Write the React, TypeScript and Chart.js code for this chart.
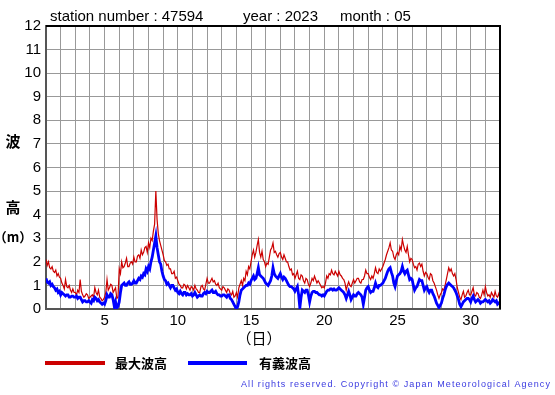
import { useEffect, useRef } from "react";
import { Chart, registerables } from "chart.js";

Chart.register(...registerables);

// ---- data (12 readings per day, every 2 hours, May 1 00h -> June 1 00h) ----
const STEPS_PER_DAY = 12;
const FIRST_DAY = 1;
const LAST_DAY = 32;

const maxWave = [
  2.1, 1.85, 2.0, 1.75, 1.7, 1.8, 1.6, 1.55, 1.65, 1.4, 1.5, 1.35, // 1
  1.3, 1.1, 1.0, 0.85, 1.25, 0.95, 0.9, 1.0, 0.8, 0.7, 0.85, 0.7, // 2
  0.7, 0.6, 0.8, 0.7, 1.25, 0.75, 0.6, 0.5, 0.55, 0.65, 0.6, 0.45, // 3
  0.5, 0.55, 0.6, 0.5, 0.9, 0.7, 0.6, 0.8, 0.5, 0.45, 0.35, 0.4, // 4
  0.5, 0.7, 1.25, 0.8, 0.9, 1.05, 1.0, 0.7, 0.8, 0.9, 0.45, 0.5, // 5
  1.7, 1.5, 2.0, 1.75, 1.8, 1.95, 2.15, 1.8, 1.8, 1.95, 2.0, 1.9, // 6
  2.2, 2.0, 2.0, 2.25, 2.3, 2.15, 2.5, 2.3, 2.4, 2.6, 2.65, 2.4, // 7
  2.8, 2.6, 3.0, 2.9, 3.3, 3.6, 5.0, 3.8, 3.2, 2.9, 2.7, 2.5, // 8
  2.3, 2.05, 2.0, 1.85, 1.9, 1.7, 1.7, 1.5, 1.5, 1.6, 1.3, 1.35, // 9
  1.2, 1.05, 1.0, 0.9, 0.9, 1.05, 1.0, 0.85, 1.0, 0.9, 0.8, 0.95, // 10
  0.9, 0.8, 1.0, 0.85, 0.8, 0.7, 0.7, 0.95, 1.0, 0.85, 0.8, 1.05, // 11
  1.3, 1.1, 1.1, 1.2, 1.3, 1.15, 1.2, 1.05, 1.0, 1.1, 0.9, 0.85, // 12
  0.8, 0.95, 0.9, 0.8, 0.7, 0.85, 0.8, 0.65, 0.6, 0.75, 0.5, 0.55, // 13
  0.7, 0.5, 0.9, 1.05, 1.2, 1.0, 1.3, 1.2, 1.6, 1.45, 1.8, 1.7, // 14
  2.0, 2.3, 2.5, 2.2, 2.4, 2.7, 2.95, 2.4, 2.2, 2.45, 2.1, 2.0, // 15
  1.8, 1.95, 1.9, 2.2, 2.5, 2.6, 2.8, 2.4, 2.45, 2.3, 2.2, 2.35, // 16
  2.4, 2.2, 2.1, 2.3, 2.15, 2.0, 2.0, 1.8, 1.65, 1.7, 1.45, 1.5, // 17
  1.3, 1.45, 1.6, 1.3, 1.25, 1.45, 1.4, 1.2, 1.1, 1.3, 1.25, 1.05, // 18
  0.95, 1.1, 1.3, 1.2, 1.4, 1.25, 1.1, 1.2, 1.1, 1.0, 0.9, 0.95, // 19
  0.9, 1.1, 1.4, 1.3, 1.5, 1.45, 1.65, 1.5, 1.45, 1.6, 1.5, 1.4, // 20
  1.6, 1.45, 1.4, 1.3, 1.25, 1.1, 0.8, 1.0, 1.15, 1.0, 0.95, 1.1, // 21
  1.25, 1.1, 1.2, 1.3, 1.3, 1.15, 1.1, 1.25, 1.25, 1.4, 1.65, 1.5, // 22
  1.5, 1.35, 1.25, 1.4, 1.3, 1.5, 1.75, 1.55, 1.5, 1.7, 1.6, 1.7, // 23
  1.8, 1.95, 2.1, 2.3, 2.45, 2.6, 2.8, 2.5, 2.45, 2.2, 2.1, 2.3, // 24
  2.4, 2.3, 2.65, 2.5, 2.95, 2.7, 2.5, 2.4, 2.65, 2.3, 2.0, 2.15, // 25
  2.1, 1.9, 1.75, 1.8, 1.65, 1.9, 1.95, 1.8, 1.9, 1.6, 1.4, 1.55, // 26
  1.5, 1.35, 1.25, 1.5, 1.45, 1.2, 1.1, 0.95, 0.8, 0.6, 0.45, 0.6, // 27
  0.7, 0.85, 0.8, 1.0, 1.25, 1.5, 1.75, 1.6, 1.7, 1.5, 1.4, 1.5, // 28
  1.25, 0.9, 0.7, 0.5, 0.4, 0.6, 0.75, 0.5, 0.55, 0.7, 0.8, 0.6, // 29
  0.6, 0.75, 0.9, 0.6, 0.55, 0.7, 0.65, 0.5, 0.45, 0.6, 0.8, 0.6, // 30
  0.95, 0.7, 0.55, 0.6, 0.5, 0.7, 0.6, 0.5, 0.75, 0.55, 0.5, 0.65, // 31
  0.45,
];

const significantWave = [
  1.3, 1.15, 1.1, 1.15, 1.0, 1.05, 0.95, 0.9, 0.8, 0.85, 0.7, 0.75, // 1
  0.6, 0.7, 0.65, 0.6, 0.55, 0.6, 0.6, 0.5, 0.5, 0.55, 0.55, 0.5, // 2
  0.5, 0.55, 0.45, 0.5, 0.5, 0.4, 0.3, 0.35, 0.35, 0.3, 0.3, 0.35, // 3
  0.3, 0.25, 0.4, 0.35, 0.5, 0.45, 0.35, 0.4, 0.3, 0.25, 0.2, 0.25, // 4
  0.2, 0.35, 0.6, 0.5, 0.5, 0.65, 0.6, 0.4, 0.1, 0.3, 0.05, 0.1, // 5
  0.3, 0.7, 1.0, 1.05, 1.1, 1.0, 1.0, 1.1, 1.15, 1.05, 1.05, 1.1, // 6
  1.2, 1.1, 1.1, 1.2, 1.3, 1.25, 1.4, 1.35, 1.5, 1.45, 1.7, 1.6, // 7
  1.8, 1.7, 2.0, 2.2, 2.5, 2.8, 3.1, 2.6, 2.3, 2.0, 1.9, 1.6, // 8
  1.4, 1.25, 1.2, 1.05, 1.1, 1.0, 0.9, 1.0, 1.0, 0.9, 0.8, 0.85, // 9
  0.7, 0.65, 0.75, 0.65, 0.6, 0.7, 0.7, 0.6, 0.65, 0.6, 0.6, 0.65, // 10
  0.55, 0.6, 0.7, 0.6, 0.5, 0.55, 0.6, 0.55, 0.55, 0.65, 0.7, 0.65, // 11
  0.75, 0.7, 0.7, 0.75, 0.8, 0.7, 0.7, 0.75, 0.65, 0.6, 0.6, 0.55, // 12
  0.55, 0.6, 0.6, 0.55, 0.5, 0.6, 0.6, 0.45, 0.4, 0.3, 0.2, 0.1, // 13
  0.0, 0.1, 0.3, 0.6, 0.8, 0.85, 0.9, 0.95, 1.0, 1.0, 1.1, 1.05, // 14
  1.2, 1.3, 1.4, 1.25, 1.3, 1.5, 1.75, 1.45, 1.4, 1.35, 1.3, 1.2, // 15
  1.1, 1.05, 1.0, 1.1, 1.2, 1.4, 1.75, 1.5, 1.4, 1.35, 1.3, 1.4, // 16
  1.5, 1.35, 1.25, 1.35, 1.3, 1.2, 1.1, 1.0, 0.95, 0.95, 0.9, 0.85, // 17
  0.75, 0.85, 0.95, 0.6, 0.05, 0.5, 0.8, 0.75, 0.7, 0.8, 0.8, 0.6, // 18
  0.3, 0.55, 0.7, 0.75, 0.75, 0.7, 0.7, 0.65, 0.6, 0.6, 0.55, 0.6, // 19
  0.55, 0.65, 0.75, 0.8, 0.8, 0.85, 0.85, 0.8, 0.85, 0.8, 0.8, 0.85, // 20
  0.9, 0.85, 0.8, 0.75, 0.7, 0.6, 0.45, 0.6, 0.75, 0.6, 0.4, 0.5, // 21
  0.6, 0.55, 0.55, 0.65, 0.7, 0.65, 0.6, 0.5, 0.2, 0.5, 0.8, 0.9, // 22
  0.95, 0.8, 0.7, 0.75, 0.75, 0.9, 1.1, 0.95, 0.9, 1.0, 1.0, 1.05, // 23
  1.1, 1.2, 1.3, 1.45, 1.6, 1.7, 1.75, 1.55, 1.4, 1.1, 0.95, 1.2, // 24
  1.4, 1.45, 1.5, 1.6, 1.8, 1.6, 1.5, 1.6, 1.65, 1.45, 1.25, 1.3, // 25
  1.25, 1.0, 0.8, 0.9, 0.95, 1.1, 1.25, 1.2, 1.2, 1.0, 0.8, 0.9, // 26
  0.95, 0.8, 0.7, 0.8, 0.8, 0.65, 0.55, 0.4, 0.25, 0.15, 0.05, 0.15, // 27
  0.25, 0.45, 0.6, 0.8, 0.95, 1.05, 1.1, 1.05, 1.0, 0.95, 0.9, 0.8, // 28
  0.7, 0.55, 0.4, 0.2, 0.1, 0.2, 0.3, 0.35, 0.4, 0.45, 0.45, 0.4, // 29
  0.3, 0.45, 0.55, 0.4, 0.3, 0.35, 0.4, 0.35, 0.25, 0.3, 0.3, 0.35, // 30
  0.4, 0.35, 0.3, 0.35, 0.25, 0.3, 0.4, 0.35, 0.3, 0.35, 0.2, 0.25, // 31
  0.3,
];

const xTickLabels = [5, 10, 15, 20, 25, 30];
const Y_MIN = 0;
const Y_MAX = 12;

const TITLE_STATION = "station number : 47594";
const TITLE_YEAR = "year : 2023";
const TITLE_MONTH = "month : 05";
const Y_LABEL = ["波", "高", "（m）"];
const X_LABEL = "（日）";
const LEGEND_MAX = "最大波高";
const LEGEND_SIG = "有義波高";
const COPYRIGHT = "All rights reserved. Copyright © Japan Meteorological Agency";

const RED = "#cc0000";
const BLUE = "#0000ff";
const FONT = "'Liberation Sans', Arial, sans-serif";
const JP_FONT = "'Noto Sans CJK JP', sans-serif";

const toPoints = (arr: number[]) =>
  arr.map((v, i) => ({ x: FIRST_DAY + i / STEPS_PER_DAY, y: v }));

const decorPlugin = {
  id: "decor",
  afterDatasetsDraw(chart: any) {
    const { ctx, chartArea } = chart;
    ctx.save();
    ctx.strokeStyle = "#000";
    ctx.lineWidth = 2;
    ctx.beginPath();
    ctx.moveTo(chartArea.left, chartArea.top);
    ctx.lineTo(chartArea.right, chartArea.top);
    ctx.lineTo(chartArea.right, chartArea.bottom);
    ctx.stroke();
    ctx.restore();
  },
  afterDraw(chart: any) {
    const { ctx } = chart;
    ctx.save();
    ctx.fillStyle = "#000";
    ctx.textBaseline = "alphabetic";
    ctx.textAlign = "left";
    ctx.font = `15px ${FONT}`;
    ctx.fillText(TITLE_STATION, 50, 21);
    ctx.fillText(TITLE_YEAR, 243, 21);
    ctx.fillText(TITLE_MONTH, 340, 21);

    ctx.textAlign = "center";
    ctx.textBaseline = "middle";
    ctx.font = `bold 15px ${JP_FONT}`;
    ctx.fillText(Y_LABEL[0], 13, 141);
    ctx.fillText(Y_LABEL[1], 13, 207);
    ctx.font = `bold 13px ${JP_FONT}`;
    ctx.fillText(Y_LABEL[2], 13, 237);

    ctx.font = `15px ${JP_FONT}`;
    ctx.fillText(X_LABEL, 259, 338);

    // legend
    ctx.lineWidth = 4;
    ctx.strokeStyle = RED;
    ctx.beginPath();
    ctx.moveTo(45, 363);
    ctx.lineTo(105, 363);
    ctx.stroke();
    ctx.strokeStyle = BLUE;
    ctx.beginPath();
    ctx.moveTo(188, 363);
    ctx.lineTo(247, 363);
    ctx.stroke();
    ctx.textAlign = "left";
    ctx.font = `bold 13px ${JP_FONT}`;
    ctx.fillText(LEGEND_MAX, 115, 363);
    ctx.fillText(LEGEND_SIG, 259, 363);

    // copyright
    ctx.font = `9px ${FONT}`;
    ctx.fillStyle = "#3a3ae0";
    const target = 310;
    const w = ctx.measureText(COPYRIGHT).width;
    (ctx as any).letterSpacing = `${Math.max(0, (target - w) / COPYRIGHT.length)}px`;
    ctx.fillText(COPYRIGHT, 241, 385);
    ctx.restore();
  },
};

export default function App() {
  const ref = useRef<HTMLCanvasElement>(null);

  useEffect(() => {
    const days: number[] = [];
    for (let d = FIRST_DAY; d <= LAST_DAY; d++) days.push(d);
    const chart = new Chart(ref.current!, {
      type: "line",
      data: {
        datasets: [
          {
            label: LEGEND_MAX,
            data: toPoints(maxWave),
            borderColor: RED,
            borderWidth: 1.2,
            pointRadius: 0,
            tension: 0,
            order: 1,
          },
          {
            label: LEGEND_SIG,
            data: toPoints(significantWave),
            borderColor: BLUE,
            borderWidth: 2.8,
            pointRadius: 0,
            tension: 0,
            order: 0,
          },
        ],
      },
      options: {
        responsive: false,
        animation: false,
        devicePixelRatio: 1,
        layout: { padding: { top: 26, right: 55, left: 0, bottom: 0 } },
        plugins: {
          legend: { display: false },
          title: { display: false },
          tooltip: { enabled: false },
        },
        scales: {
          x: {
            type: "linear",
            min: FIRST_DAY,
            max: LAST_DAY,
            afterFit: (s: any) => {
              s.height = 86;
            },
            afterBuildTicks: (s: any) => {
              s.ticks = days.map((v) => ({ value: v }));
            },
            ticks: {
              autoSkip: false,
              maxRotation: 0,
              padding: 3,
              color: "#000",
              font: { size: 15, family: FONT },
              callback: (v: any) => (xTickLabels.includes(Number(v)) ? String(v) : ""),
            },
            grid: { color: "#999", lineWidth: 1, drawTicks: false },
            border: { color: "#555", width: 2 },
          },
          y: {
            min: Y_MIN,
            max: Y_MAX,
            afterFit: (s: any) => {
              s.width = 46;
            },
            ticks: {
              stepSize: 1,
              padding: 5,
              color: "#000",
              font: { size: 15, family: FONT },
            },
            grid: { color: "#999", lineWidth: 1, drawTicks: false },
            border: { color: "#555", width: 2 },
          },
        },
      },
      plugins: [decorPlugin],
    });
    return () => chart.destroy();
  }, []);

  return (
    <div style={{ position: "fixed", left: 0, top: 0, width: 555, height: 395, background: "#fff" }}>
      <canvas ref={ref} width={555} height={395} style={{ display: "block", width: 555, height: 395 }} />
    </div>
  );
}
